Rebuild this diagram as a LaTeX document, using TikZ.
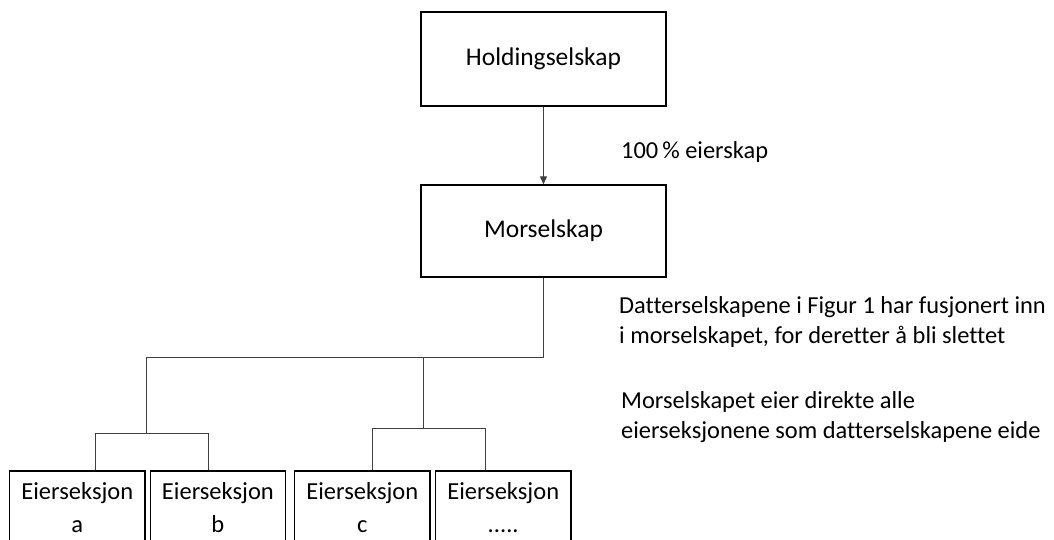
\documentclass[tikz,border=0pt]{standalone}
\usepackage{fontspec}
\setmainfont[Ligatures=NoCommon]{Carlito}
\usetikzlibrary{arrows.meta}
\begin{document}
\begin{tikzpicture}[x=1pt,y=-1pt,
  box/.style={draw=black,line width=1.3pt,rectangle,inner sep=0pt,align=center},
  topbox/.style={box,minimum width=245pt,minimum height=94pt,font=\fontsize{25.5}{30}\selectfont},
  secbox/.style={box,minimum width=135.5pt,minimum height=74pt,font=\fontsize{24.5}{33}\selectfont},
  conn/.style={draw=black!75,line width=0.9pt},
  note/.style={anchor=west,inner sep=0pt,align=left,font=\fontsize{24.4}{30}\selectfont}]
\useasboundingbox (0,0) rectangle (1054,540);
\begin{scope}
\clip (0,0) rectangle (1054,540);
\node[topbox] (hold) at (543.5,59) {Holdingselskap};
\node[topbox,minimum height=92pt] (mor) at (543.5,231) {Morselskap};
\node[secbox] (a) at (77.3,508) {Eierseksjon\\a};
\node[secbox] (b) at (217.9,508) {Eierseksjon\\b};
\node[secbox] (c) at (362.3,508) {Eierseksjon\\c};
\node[secbox] (d) at (503.2,508) {Eierseksjon\\.....};

\draw[conn,-{Triangle[length=8pt,width=7pt]}] (hold.south) -- (mor.north);

\coordinate (top) at (146,357);
\coordinate (lm) at (146,433);
\coordinate (rm) at (423,428);
\coordinate (la) at (95,433);
\coordinate (lb) at (208,433);
\coordinate (rc) at (372.5,428);
\coordinate (rd) at (485.7,428);

\draw[conn] (mor.south) |- (top) -- (lm);
\draw[conn] (rm |- top) -- (rm);
\draw[conn] (a.north -| la) |- (lb) -- (b.north -| lb);
\draw[conn] (c.north -| rc) |- (rd) -- (d.north -| rd);

\node[note] (own) at (621,152) {100\,\% eierskap};
\node[note] (merge) at (619,322) {Datterselskapene i Figur 1 har fusjonert inn\\i morselskapet, for deretter å bli slettet};
\node[note] (direct) at (621,417.5) {Morselskapet eier direkte alle\\eierseksjonene som datterselskapene eide};
\end{scope}
\end{tikzpicture}
\end{document}
